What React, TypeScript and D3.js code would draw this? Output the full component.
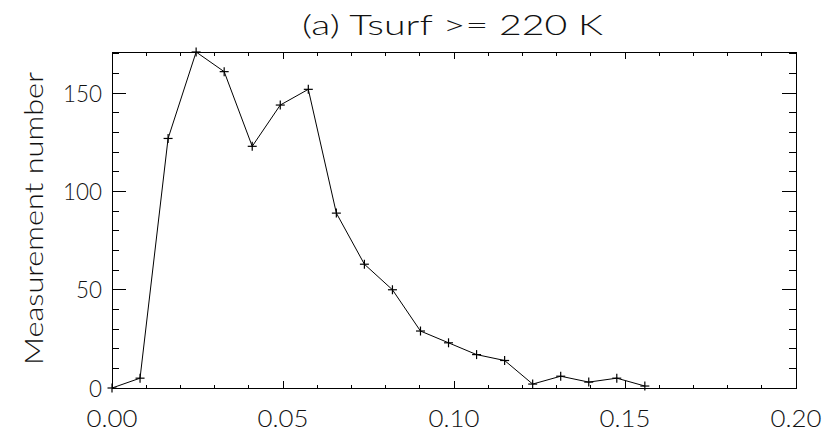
import React from "react";
import * as d3 from "d3";

const xValues = [0, 0.0082, 0.0164, 0.0246, 0.0328, 0.041, 0.0492, 0.0574, 0.0656, 0.0738, 0.082, 0.0902, 0.0984, 0.1066, 0.1148, 0.123, 0.1312, 0.1394, 0.1476, 0.1558];
const counts = [0, 5, 127, 171, 161, 123, 144, 152, 89, 63, 50, 29, 23, 17, 14, 2, 6, 3, 5, 1];
const xTickLabels = ["0.00", "0.05", "0.10", "0.15", "0.20"];
const xMajor = [0, 0.05, 0.1, 0.15, 0.2];
const yMajor = [0, 50, 100, 150];
const yTickLabels = ["0", "50", "100", "150"];
const title = "(a) Tsurf >= 220 K";
const yTitle = "Measurement number";

const W = 825, H = 431;
const L = 112, R = 796, T = 52, B = 388;
const FONT = "Lato, 'DejaVu Sans', sans-serif";

const labelWidth = (s: string) => s.split("").reduce((a, c) => a + (c === "." ? 12 : 13), 0);

export default function App() {
  const x = d3.scaleLinear().domain([0, 0.2]).range([L, R]);
  const y = d3.scaleLinear().domain([0, 171]).range([B, T]);
  const xMinor = d3.range(0, 0.2001, 0.01);
  const yMinor = d3.range(0, 171, 10);
  const line = d3.line<number>().x((_, i) => x(xValues[i])).y((d) => y(d));
  const pts = counts.map((c, i) => [x(xValues[i]), y(c)]);
  const ps = 4.5;
  return (
    <svg width={W} height={H} style={{ position: "absolute", left: 0, top: 0, background: "#fff" }}>
      <rect x={0} y={0} width={W} height={H} fill="#fff" />
      <g stroke="#000" strokeWidth={1} fill="none" shapeRendering="crispEdges">
        <rect x={L} y={T} width={R - L} height={B - T} />
        {xMinor.map((v, i) => {
          const major = xMajor.some((m) => Math.abs(m - v) < 1e-6);
          const len = major ? 7 : 3.5;
          return (
            <g key={"xm" + i}>
              <line x1={x(v)} x2={x(v)} y1={B} y2={B - len} />
              <line x1={x(v)} x2={x(v)} y1={T} y2={T + len} />
            </g>
          );
        })}
        {yMinor.map((v, i) => {
          const major = yMajor.includes(v);
          const len = major ? 14 : 7;
          return (
            <g key={"ym" + i}>
              <line x1={L} x2={L + len} y1={y(v)} y2={y(v)} />
              <line x1={R} x2={R - len} y1={y(v)} y2={y(v)} />
            </g>
          );
        })}
      </g>
      <path d={line(counts) || ""} fill="none" stroke="#000" strokeWidth={1} />
      <g stroke="#000" strokeWidth={1.2}>
        {pts.map(([px, py], i) => (
          <g key={"p" + i}>
            <line x1={px - ps} x2={px + ps} y1={py} y2={py} />
            <line x1={px} x2={px} y1={py - ps} y2={py + ps} />
          </g>
        ))}
      </g>
      <g fontFamily={FONT} fontWeight={300} fill="#111" fontSize={24}>
        {xMajor.map((v, i) => (
          <text key={"xl" + i} x={x(v)} y={427} textAnchor="middle" textLength={labelWidth(xTickLabels[i])} lengthAdjust="spacingAndGlyphs">{xTickLabels[i]}</text>
        ))}
        {yMajor.map((v, i) => (
          <text key={"yl" + i} x={102} y={y(v) + 8.5} textAnchor="end" textLength={labelWidth(yTickLabels[i])} lengthAdjust="spacingAndGlyphs">{yTickLabels[i]}</text>
        ))}
        <text transform={`translate(43,218.5) rotate(-90)`} textAnchor="middle" fontSize={26} textLength={293} lengthAdjust="spacingAndGlyphs">{yTitle}</text>
        <text x={452.5} y={35} textAnchor="middle" fontSize={28} textLength={301} lengthAdjust="spacingAndGlyphs">{title}</text>
      </g>
    </svg>
  );
}
